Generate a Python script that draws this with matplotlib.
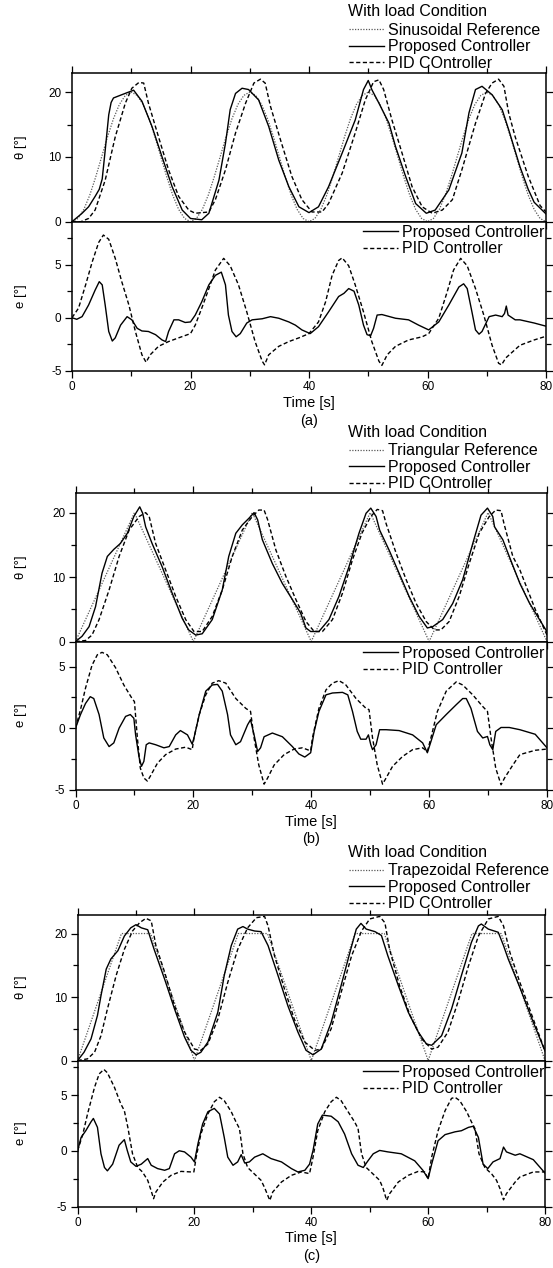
import matplotlib
matplotlib.use("Agg")
import matplotlib.pyplot as plt
from matplotlib.ticker import MultipleLocator

plt.rcParams['font.family'] = ['Liberation Sans', 'DejaVu Sans']
plt.rcParams['axes.unicode_minus'] = False

# ---------------- data ----------------
# Panel (a) sinusoidal reference
a_ref_t = list(range(0, 81))
a_ref_v = [0, 0.5, 1.9, 4.1, 6.9, 10, 13.1, 15.9, 18.1, 19.5, 20, 19.5, 18.1, 15.9, 13.1, 10, 6.9, 4.1, 1.9, 0.5,
           0, 0.5, 1.9, 4.1, 6.9, 10, 13.1, 15.9, 18.1, 19.5, 20, 19.5, 18.1, 15.9, 13.1, 10, 6.9, 4.1, 1.9, 0.5,
           0, 0.5, 1.9, 4.1, 6.9, 10, 13.1, 15.9, 18.1, 19.5, 20, 19.5, 18.1, 15.9, 13.1, 10, 6.9, 4.1, 1.9, 0.5,
           0, 0.5, 1.9, 4.1, 6.9, 10, 13.1, 15.9, 18.1, 19.5, 20, 19.5, 18.1, 15.9, 13.1, 10, 6.9, 4.1, 1.9, 0.5, 0]

a_prop_t = [0, 1.7, 2.8, 3.9, 4.6, 5.1, 5.6, 6.2, 6.6, 7, 8.4, 10.4, 11.8, 13.5, 15.2, 16.9, 18.6, 20, 21.9, 23.1,
            24.8, 25.9, 26.7, 27.6, 28.7, 29.8, 31.5, 33.2, 34.9, 36.6, 38.3, 40, 41.6, 43.3, 45.6, 47.8, 49.2, 50,
            50.6, 51.8, 53.5, 54.6, 56.3, 58, 59.8, 61.3, 63.6, 65.8, 67, 68.1, 69.2, 70.9, 72.6, 73.7, 75.6, 77,
            78, 80]
a_prop_v = [0, 1.3, 2.3, 3.9, 5, 6.6, 11, 16.5, 18.4, 19.1, 19.6, 20.3, 18.6, 14.7, 10, 5.4, 1.8, 0.5, 0.3, 1.3,
            6.4, 12.1, 17.3, 19.8, 20.6, 20.4, 18.8, 14.7, 9.5, 5.4, 2.3, 1.4, 2.3, 5.4, 10.6, 15.7, 20.4, 21.8,
            20.4, 18.3, 15.2, 11.6, 7, 2.8, 1.3, 1.8, 4.9, 10.6, 16.8, 20.4, 20.9, 19.6, 17.3, 14.2, 8.5, 5, 3, 1.2]

a_pid_t = [0, 1.5, 2.8, 3.9, 5.6, 7.3, 9, 10.1, 11.3, 12.1, 12.9, 14.6, 16.3, 18, 19.7, 20.8, 23.1, 24.2, 25.9, 27.6,
           29.3, 30.7, 31.8, 32.6, 33.5, 35.2, 37.1, 38.8, 40.5, 42.2, 43.3, 45.6, 47.8, 49.5, 50.9, 51.8, 52.6, 54,
           55.7, 57.4, 59.1, 60.8, 62.5, 64.2, 65.8, 68.1, 69.8, 70.9, 72, 72.9, 73.7, 74.8, 77, 79, 80]
a_pid_v = [0, 0, 0.5, 1.8, 6.4, 13.1, 18.3, 20.6, 21.5, 21.4, 18.3, 13.1, 8, 3.9, 1.8, 1.3, 1.5, 3.4, 8, 13.7,
           18.3, 21.4, 22, 21.4, 17.8, 12.6, 7, 3.4, 1.5, 1.5, 2.8, 7.5, 13.7, 18.8, 21.6, 21.9, 20.4, 15.7,
           10.6, 5.4, 2.3, 1.3, 1.8, 3.4, 8, 15.2, 19.8, 21.4, 22, 20.9, 16.8, 13.1, 7, 2.5, 1.5]

a_eprop_t = [0, 0.8, 1.7, 2.8, 3.9, 4.6, 5.1, 5.6, 6.2, 6.8, 7.3, 8.2, 9.3, 10.1, 11, 11.8, 12.9, 14.1, 15.2, 15.8,
             16.3, 17.2, 18, 19.1, 20, 20.8, 21.9, 23.1, 24.2, 25.2, 25.9, 26.4, 27, 27.7, 28.4, 29.5, 30.4, 32.1,
             33.5, 34.9, 36.6, 37.7, 38.8, 40.2, 41.6, 43.3, 45, 45.9, 46.7, 47.6, 48.4, 49.2, 49.8, 50.4, 50.9,
             51.5, 52.3, 54.6, 56.8, 58.5, 60.2, 61.9, 63.6, 65.3, 66.1, 66.7, 67.5, 68.1, 68.7, 69.2, 70.4, 71.5,
             72.6, 73.0, 73.3, 73.6, 74.8, 75.6, 78, 80]
a_eprop_v = [0, -0.15, 0.1, 1.2, 2.6, 3.4, 3.1, 1.2, -1.3, -2.2, -1.9, -0.7, 0.1, -0.2, -1, -1.25, -1.3, -1.6, -2.1,
             -2.25, -1.3, -0.2, -0.2, -0.45, -0.4, 0.25, 1.5, 3.1, 4, 4.3, 3.1, 0.25, -1.3, -1.8, -1.5, -0.5, -0.2,
             -0.1, 0.1, -0.05, -0.4, -0.7, -1.15, -1.5, -0.85, 0.55, 2, 2.3, 2.75, 2.5, 1.2, -0.7, -1.6, -1.7, -1,
             0.25, 0.3, -0.05, -0.2, -0.7, -1.15, -0.4, 1.2, 2.9, 3.2, 2.75, 0.55, -1.15, -1.55, -1.3, 0.1, 0.25,
             0.1, 0.4, 1.1, 0.25, -0.2, -0.2, -0.5, -0.8]

a_epid_t = [0, 1.1, 2.3, 3.4, 4.5, 5.3, 6.2, 7.3, 8.4, 9.6, 10.7, 11.8, 12.5, 13.2, 14.6, 16.3, 18, 20, 20.8, 21.9,
            23.1, 24.2, 25.6, 26.7, 28.1, 29.5, 30.9, 32.1, 32.5, 33.2, 34.9, 36.6, 38.3, 40, 41.6, 42.8, 43.9, 45,
            45.6, 46.7, 47.8, 49.2, 50.6, 51.8, 52.3, 53.2, 54.6, 56.8, 59.1, 60.2, 61.9, 63.3, 64.4, 65.6, 66.7,
            68.1, 69.5, 70.9, 72, 72.5, 73.2, 75.6, 78, 80]
a_epid_v = [0, 0.9, 3.1, 5.25, 7.1, 7.8, 7.4, 5.6, 3.4, 1.2, -1.3, -3.5, -4.2, -3.5, -2.7, -2.25, -1.9, -1.5, -0.7,
            0.9, 2.75, 4.5, 5.6, 4.9, 3.1, 0.55, -2.25, -4.1, -4.45, -3.5, -2.7, -2.25, -1.9, -1.5, -0.4, 1.5, 4,
            5.4, 5.65, 4.9, 3.1, 0.55, -2.25, -4.1, -4.5, -3.5, -2.7, -2.1, -1.8, -1.5, -0.05, 2.4, 4.5, 5.6, 4.9,
            2.75, 0.25, -2.6, -4.3, -4.45, -3.8, -2.6, -2.1, -1.75]

# Panel (b) triangular reference
b_ref_t = [0, 10, 20, 30, 40, 50, 60, 70, 80]
b_ref_v = [0, 20, 0, 20, 0, 20, 0, 20, 0]

b_prop_t = [0, 1.1, 2.3, 3.4, 4.5, 5.4, 6.5, 7.6, 8.8, 9.9, 10.9, 11.4, 11.9, 13, 14.7, 16.4, 18.1, 19.2, 20.4, 21.5,
            23.2, 24.9, 26, 27.2, 28.3, 29.4, 30.3, 30.9, 31.7, 33.4, 35.1, 36.8, 38.2, 39.1, 39.9, 41.3, 43, 44.7,
            46.4, 48.1, 49.3, 50.1, 51, 51.6, 53.2, 54.9, 56.6, 58.3, 59.7, 60.6, 62.3, 64, 65.7, 67.4, 68.8, 69.9,
            70.8, 71.1, 72.5, 73.6, 75.4, 77, 80]
b_prop_v = [0, 0.8, 2.3, 5.4, 10.6, 13.2, 14.3, 15.2, 16.8, 19.4, 20.9, 19.9, 17.8, 15.2, 11.6, 7.5, 3.6, 1.8, 1, 1.2,
            3.4, 8, 13.2, 16.8, 18.1, 19.1, 20, 18.9, 15.8, 12.1, 9, 6.5, 4.4, 2.1, 1.55, 1.55, 3.4, 7, 11.6, 16.8,
            19.9, 20.7, 19.4, 17.3, 14.2, 10.6, 7, 3.9, 2.1, 2.3, 3.4, 5.9, 9.6, 15.2, 19.6, 20.7, 19.4, 17.8, 15.8,
            13.2, 9, 6, 1.5]

b_pid_t = [0, 1.7, 2.8, 4, 5.7, 7.4, 9.1, 10.8, 11.9, 12.5, 13.6, 15.3, 17, 18.7, 20.1, 21.5, 23.2, 24.9, 26.6, 28.3,
           30, 31.1, 32, 32.6, 34, 35.7, 37.4, 39.1, 40.5, 41.9, 43.6, 45.3, 47, 48.6, 50.1, 51.2, 52.1, 52.7, 54.4,
           56.1, 57.8, 59.5, 60.9, 62, 63.4, 65.1, 66.8, 68.5, 70.2, 71.3, 72.2, 72.7, 74.2, 75.4, 78, 80]
b_pid_v = [0, 0.15, 1, 3.4, 8, 13.2, 17.3, 19.4, 20, 19.4, 15.2, 11.1, 7, 3.4, 1.55, 1.55, 3.9, 8, 13.2, 17.3,
           19.4, 20.4, 20.4, 18.9, 14.2, 10.1, 6.5, 3.1, 1.55, 1.55, 3.4, 7.5, 12.7, 16.8, 19.4, 20.5, 20.3, 18.3,
           13.7, 9.6, 5.9, 3.1, 1.8, 1.8, 3.1, 7, 12.1, 16.8, 19.4, 20.4, 20.3, 18.3, 13.2, 11.1, 5, 1]

b_eprop_t = [0, 0.85, 1.7, 2.5, 3.1, 4, 4.8, 5.7, 6.5, 7.4, 8.5, 9.3, 9.9, 10.2, 10.8, 11.2, 11.6, 12, 12.5, 13.6,
             15, 15.9, 17, 17.8, 19, 19.8, 20.1, 21, 22.1, 23.2, 24.1, 24.9, 25.8, 26.3, 27.2, 28, 29.2, 29.7, 30.3,
             30.9, 31.4, 32, 33.4, 35.1, 36.8, 37.9, 38.9, 39.9, 40.5, 41.3, 42.5, 43.6, 45.3, 46.2, 47, 47.8, 48.4,
             49.3, 49.7, 50.1, 50.4, 51, 51.6, 52.7, 54.9, 57.2, 58.9, 59.7, 60.3, 61.2, 62.9, 64.6, 65.7, 66.3,
             67.1, 68.2, 69.1, 69.9, 70.3, 70.8, 71.3, 72.2, 73.6, 75.4, 78, 80]
b_eprop_v = [0, 1.1, 2, 2.55, 2.4, 1.1, -0.8, -1.5, -1.2, 0, 0.95, 1.1, 0.8, -0.55, -2.4, -3.1, -2.7, -1.35, -1.2,
             -1.35, -1.6, -1.5, -0.55, -0.2, -0.55, -1.3, -0.8, 1.1, 3, 3.5, 3.55, 3, 1.1, -0.55, -1.35, -1.1, 0.27,
             0.68, -0.55, -1.9, -1.6, -0.7, -0.4, -0.7, -1.5, -2.1, -2.35, -2, -0.27, 1.35, 2.7, 2.85, 2.9, 2.7,
             1.35, -0.27, -0.9, -0.9, -0.55, -1.35, -1.75, -1.35, -0.13, -0.13, -0.2, -0.55, -1.2, -2, -1.1, 0.27,
             1.1, 1.9, 2.4, 2.4, 1.6, -0.27, -0.8, -0.68, -1.35, -1.75, -0.27, 0.05, 0.05, -0.13, -0.5, -1.6]

b_epid_t = [0, 0.85, 1.7, 2.8, 3.7, 4.5, 5.4, 6.8, 8.2, 9.6, 10, 10.5, 11, 11.6, 12.2, 12.7, 13.9, 15.3, 17, 18.7,
            19.8, 20.1, 21, 22.1, 23.2, 24.3, 25.5, 27.2, 28.9, 29.7, 30.3, 31.1, 32, 32.6, 33.7, 35.4, 37.1, 38.5,
            39.9, 40.2, 41.3, 42.5, 43.6, 44.7, 45.8, 47.6, 49.3, 49.8, 50.4, 51.2, 52.1, 52.7, 53.8, 55.5, 57.2,
            58.9, 59.7, 60.3, 61.4, 62.9, 64.6, 65.7, 67.4, 69.1, 69.9, 70.5, 71.3, 72.2, 72.8, 74.2, 75.4, 78, 80]
b_epid_v = [0, 1.5, 3.25, 5.1, 5.95, 6.15, 5.95, 4.9, 3.5, 2.4, 2.15, -0.8, -3.25, -4.05, -4.3, -3.9, -2.85, -2.15,
            -1.7, -1.55, -1.75, -0.8, 1.1, 2.7, 3.65, 3.85, 3.65, 2.4, 1.6, 1.35, -0.8, -3, -4.55, -4.05, -3, -2.15,
            -1.7, -1.6, -1.85, -0.8, 1.6, 3.1, 3.65, 3.85, 3.55, 2.4, 1.6, 1.5, -0.8, -3, -4.55, -4.05, -3.1, -2.3,
            -1.75, -1.6, -1.9, -0.8, 1.35, 3, 3.75, 3.5, 2.7, 1.75, 1.35, -0.8, -3.25, -4.6, -4.05, -3, -2.15, -1.8,
            -1.7]

# Panel (c) trapezoidal reference
c_ref_t = [0, 7.5, 12.5, 20, 27.5, 32.5, 40, 47.5, 52.5, 60, 67.5, 72.5, 80]
c_ref_v = [0, 20, 20, 0, 20, 20, 0, 20, 20, 0, 20, 20, 0]

c_prop_t = [0, 1.1, 2.3, 3.4, 4, 4.9, 5.7, 6.9, 8, 9.1, 10, 10.9, 12, 13.1, 14.9, 16.6, 18.3, 19.4, 20.3, 21.1, 22.3,
            24, 25.1, 26.3, 27.4, 28.3, 29.1, 30.3, 31.4, 32.6, 34.3, 36, 37.7, 39.1, 40.3, 41.7, 43.4, 45.1, 46.6,
            47.7, 48.5, 49.4, 50.9, 52, 53.1, 54.9, 56.6, 58.3, 59.7, 60.6, 62.3, 64, 65.7, 67.4, 68.6, 69.1, 70.3,
            72, 72.9, 73.7, 75.7, 78, 80]
c_prop_v = [0, 1.3, 3.4, 7.1, 10.2, 14.4, 16, 17.3, 19.6, 20.9, 21.4, 20.9, 20.6, 17.5, 12.8, 8.1, 3.7, 1.6, 0.9,
            1.3, 2.9, 7.6, 13.4, 18.1, 20.7, 21.1, 20.7, 20.4, 20.3, 18.1, 13.4, 8.6, 4.5, 1.6, 0.9, 1.8, 6, 11.8,
            17, 20.7, 21.6, 20.7, 20.3, 19.7, 16.5, 11.8, 7.6, 4.5, 2.6, 2.4, 3.9, 8.1, 13.4, 18.6, 21.2, 21.5,
            20.7, 20.2, 18.1, 16, 11.5, 6, 1.5]

c_pid_t = [0, 1.7, 2.9, 4, 5.1, 6.6, 8, 9.4, 10.6, 11.7, 12.6, 13.4, 14.9, 16.6, 18.3, 20, 21.1, 22.3, 24, 25.7,
           27.4, 29.1, 30.6, 32, 32.6, 33.7, 35.4, 37.1, 38.9, 40.6, 41.7, 43.4, 45.1, 46.9, 48.6, 50, 51.7, 52.6,
           53.4, 55.1, 56.9, 58.9, 60.6, 61.7, 63.4, 65.1, 66.9, 68.6, 70.3, 72, 72.9, 74, 75.7, 78, 80]
c_pid_v = [0, 0.26, 1.3, 3.9, 8.1, 13.4, 17.5, 20.4, 21.7, 22.4, 22, 18.1, 13.9, 8.6, 4.5, 1.8, 1.6, 2.6, 6.5, 12.3,
           17.5, 20.9, 22.5, 22.7, 21.2, 16.5, 11.3, 6.5, 2.9, 1.6, 1.8, 5, 10.7, 16.5, 20.4, 22.3, 22.7, 21.7, 17.5,
           11.8, 7.1, 3.4, 1.8, 2.1, 4.5, 9.2, 14.9, 19.6, 22.3, 22.7, 21.2, 17, 12.3, 6.5, 1.5]

c_eprop_t = [0, 0.6, 1.4, 2.3, 2.7, 3.4, 4, 4.6, 5.1, 6, 7.1, 8, 8.5, 9.1, 10, 10.9, 12, 12.6, 13.7, 14.9, 15.7, 16.6,
             17.4, 18.3, 19.4, 20, 20.6, 21.4, 22.3, 23.4, 24.3, 25.1, 25.7, 26.6, 27.4, 28, 28.6, 29.4, 30.3, 31.7,
             33.1, 34.9, 36.6, 37.7, 38.9, 39.7, 40.3, 41.1, 41.9, 43.4, 44.6, 45.7, 46.9, 48, 48.9, 49.7, 50.6,
             51.7, 53.1, 55.4, 57.7, 59.1, 60, 60.6, 61.7, 62.9, 64.6, 65.7, 66.9, 67.7, 68.6, 69.4, 70.2, 71.1,
             72.3, 72.9, 73.4, 74.9, 75.7, 78, 80]
c_eprop_v = [0, 1.2, 1.8, 2.6, 2.9, 2.1, -0.27, -1.5, -1.8, -1.2, 0.5, 1, 0.03, -1, -1.4, -1.2, -0.7, -1.3, -1.6,
             -1.75, -1.6, -0.27, 0, -0.1, -0.57, -1, 0.63, 2.4, 3.5, 3.8, 3.3, 1.2, -0.57, -1.3, -1, -0.35, -1.1, -1,
             -0.57, -0.27, -0.7, -1, -1.6, -1.9, -1.75, -1.2, 0.03, 2.4, 3.2, 3.1, 2.6, 1.5, -0.27, -1.3, -1.5, -0.9,
             -0.27, 0.03, -0.1, -0.27, -0.9, -1.75, -2.5, -1.2, 0.9, 1.45, 1.7, 1.8, 2.1, 2.2, 1.2, -1.2, -1.6, -1,
             -0.7, 0.33, -0.1, -0.4, -0.27, -0.8, -2]

c_epid_t = [0, 0.9, 1.7, 2.9, 3.7, 4.5, 5.1, 6.3, 7.4, 8, 8.6, 9.4, 10.3, 11.1, 12, 12.6, 13, 13.4, 14.6, 16, 17.7,
            19.4, 19.9, 20.3, 21.1, 22.3, 23.4, 24.3, 25.1, 26.3, 27.1, 27.7, 28.3, 29.1, 30.3, 31.4, 32, 32.9, 33.4,
            34.9, 36.6, 38.3, 39.7, 40.3, 41.1, 42.3, 43.4, 44.3, 45.1, 46.3, 47.4, 48, 48.6, 49.4, 50.6, 51.7, 52.3,
            52.9, 53.4, 54.9, 56.6, 58.3, 59.4, 60, 60.6, 61.7, 62.9, 64, 64.6, 65.4, 66.6, 67.4, 68, 68.7, 69.7,
            70.9, 71.7, 72.3, 72.9, 73.4, 74.9, 75.7, 78, 80]
c_epid_v = [0, 1.5, 3.3, 5.7, 6.9, 7.3, 7, 5.7, 4.2, 3.6, 2.1, -0.27, -1.5, -1.9, -2.65, -3.6, -4.3, -3.7, -2.8, -2.2,
            -1.85, -1.9, -1.9, -0.57, 1.5, 3.3, 4.4, 4.8, 4.5, 3.5, 2.6, 2, -0.27, -1.5, -2.1, -2.65, -3.3, -4.45,
            -3.7, -2.8, -2.2, -1.9, -2.05, -0.57, 1.8, 3.5, 4.4, 4.8, 4.5, 3.5, 2.6, 2, -0.27, -1.5, -2.1, -2.65,
            -3.4, -4.45, -3.85, -2.8, -2.2, -1.85, -1.9, -2.5, -0.57, 1.8, 3.6, 4.7, 4.8, 4.5, 3.5, 2.6, 2, -0.27,
            -1.5, -2.1, -2.65, -3.4, -4.4, -3.85, -2.8, -2.35, -1.9, -1.9]

panel_names = ["(a)", "(b)", "(c)"]
ref_names = ["Sinusoidal Reference", "Triangular Reference", "Trapezoidal Reference"]
e_ylims = [(-5, 9.06), (-5, 7.03), (-5, 8.1)]
x_ticks = [0, 20, 40, 60, 80]

# ---------------- layout (pixel boxes) ----------------
W, H = 553, 1268
fig = plt.figure(figsize=(W / 100, H / 100), dpi=100)

# left, right, theta top, shared boundary, e bottom
boxes = [(72, 546, 72.7, 221.7, 370.7),
         (75.5, 547, 493.3, 641.5, 789.7),
         (77.6, 545, 914.5, 1060.5, 1206.5)]
leg_top = [4.5, 425.0, 845.0]
eleg_top = [225.0, 646.0, 1065.0]
xlabel_y = [403.3, 822.0, 1238.3]
cap_y = [420.5, 839.0, 1256.0]

series = [
    (a_ref_t, a_ref_v, a_prop_t, a_prop_v, a_pid_t, a_pid_v, a_eprop_t, a_eprop_v, a_epid_t, a_epid_v),
    (b_ref_t, b_ref_v, b_prop_t, b_prop_v, b_pid_t, b_pid_v, b_eprop_t, b_eprop_v, b_epid_t, b_epid_v),
    (c_ref_t, c_ref_v, c_prop_t, c_prop_v, c_pid_t, c_pid_v, c_eprop_t, c_eprop_v, c_epid_t, c_epid_v),
]

ref_style = dict(color='0.35', lw=0.9, linestyle=(0, (1, 1.2)))
prop_style = dict(color='black', lw=1.0, linestyle='-')
pid_style = dict(color='black', lw=1.0, linestyle=(0, (3, 1.8)))
LEG_FS = 11.5


def style_axes(ax):
    for s in ax.spines.values():
        s.set_linewidth(1.1)
    ax.tick_params(which='both', direction='out', top=True, right=True, labelsize=8.5,
                   width=0.9, pad=2.5)
    ax.tick_params(which='major', length=5)
    ax.tick_params(which='minor', length=3.5)


for i in range(3):
    l, r, t, m, b = boxes[i]
    rt, rv, pt, pv, dt, dv, ept, epv, edt, edv = series[i]

    ax1 = fig.add_axes([l / W, 1 - m / H, (r - l) / W, (m - t) / H])
    ax2 = fig.add_axes([l / W, 1 - b / H, (r - l) / W, (b - m) / H])

    h_ref, = ax1.plot(rt, rv, **ref_style)
    h_prop, = ax1.plot(pt, pv, **prop_style)
    h_pid, = ax1.plot(dt, dv, **pid_style)
    ax1.set_xlim(0, 80)
    ax1.set_ylim(0, 23)
    ax1.set_yticks([0, 10, 20])
    ax1.yaxis.set_minor_locator(MultipleLocator(5))
    ax1.set_xticks(x_ticks)
    ax1.xaxis.set_minor_locator(MultipleLocator(10))
    style_axes(ax1)
    ax1.tick_params(labelbottom=False)
    ax1.set_ylabel("θ [°]", fontsize=9.5)
    ax1.yaxis.set_label_coords((27 - l) / (r - l), 0.5)

    e_prop, = ax2.plot(ept, epv, **prop_style)
    e_pid, = ax2.plot(edt, edv, **pid_style)
    ax2.set_xlim(0, 80)
    ax2.set_ylim(*e_ylims[i])
    ax2.set_yticks([-5, 0, 5])
    ax2.yaxis.set_minor_locator(MultipleLocator(2.5))
    ax2.set_xticks(x_ticks)
    ax2.xaxis.set_minor_locator(MultipleLocator(10))
    style_axes(ax2)
    ax2.tick_params(top=False, which='both')
    ax2.set_ylabel("e [°]", fontsize=9.5)
    ax2.yaxis.set_label_coords((27 - l) / (r - l), 0.5)

    # legend of theta plot (placed above the axes)
    leg1 = ax1.legend([h_ref, h_prop, h_pid], [ref_names[i], "Proposed Controller", "PID COntroller"],
                      title="With load Condition", alignment='left', frameon=False,
                      loc='upper left', bbox_to_anchor=(348.5 / W, 1 - leg_top[i] / H),
                      bbox_transform=fig.transFigure, fontsize=LEG_FS, title_fontsize=LEG_FS,
                      borderpad=0, borderaxespad=0, handlelength=2.2, handletextpad=0.3,
                      labelspacing=0.09)
    leg1._legend_box.sep = 2.5

    ax2.legend([e_prop, e_pid], ["Proposed Controller", "PID Controller"], frameon=False,
               loc='upper left', bbox_to_anchor=(362.5 / W, 1 - eleg_top[i] / H),
               bbox_transform=fig.transFigure, fontsize=LEG_FS, borderpad=0, borderaxespad=0,
               handlelength=2.2, handletextpad=0.3, labelspacing=0.09)

    cx = (l + r) / 2 / W
    fig.text(cx, 1 - xlabel_y[i] / H, "Time [s]", ha='center', va='center', fontsize=10.5)
    fig.text(cx, 1 - cap_y[i] / H, panel_names[i], ha='center', va='center', fontsize=10.5)

fig.savefig("out.png", dpi=100)
